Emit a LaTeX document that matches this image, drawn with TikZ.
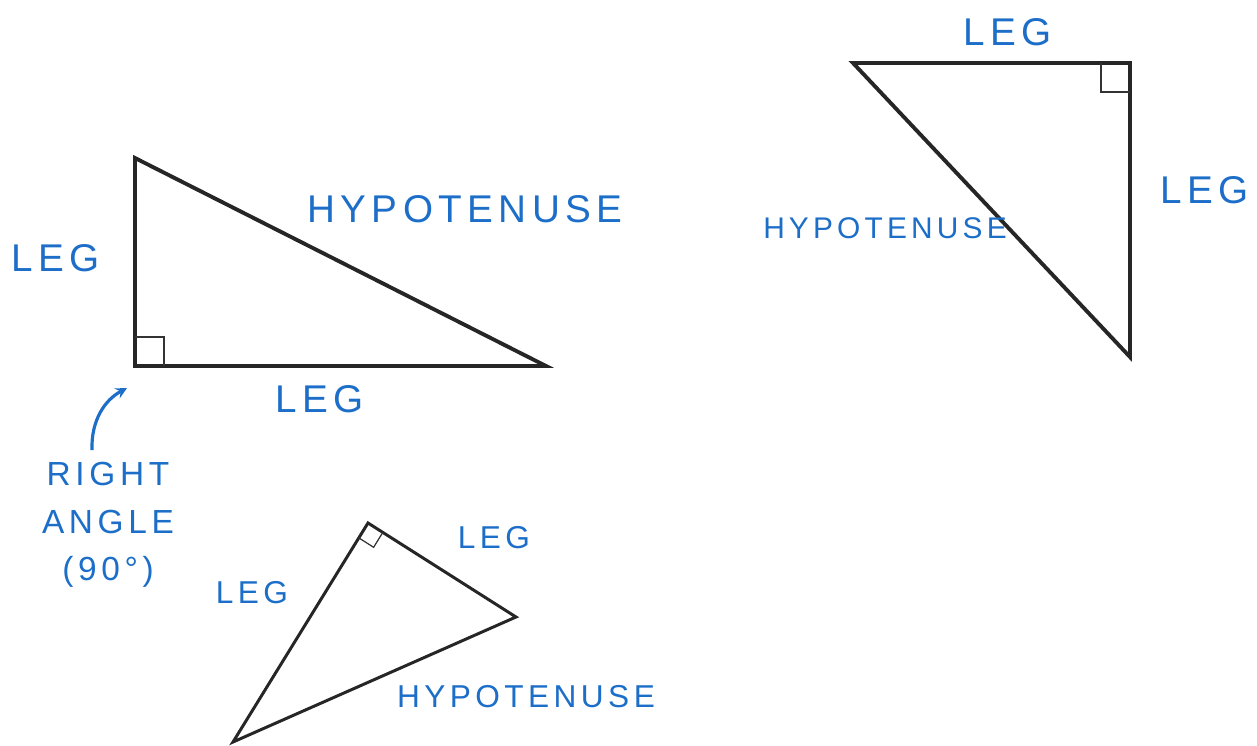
\documentclass[tikz,border=0pt]{standalone}
\usepackage{fontspec}
\usetikzlibrary{calc}
\newfontfamily\handfont[LetterSpace=14]{Liberation Sans}
\definecolor{pen}{RGB}{28,110,200}
\tikzset{
  side/.style={line width=2.2pt, line join=miter, draw=black!85},
  thinside/.style={line width=1.7pt, line join=miter, draw=black!85},
  rightmark/.style={line width=0.7pt, draw=black!80},
  bigtag/.style={text=pen, font=\handfont\fontsize{22}{26}\selectfont, inner sep=0pt},
  smalltag/.style={text=pen, font=\handfont\fontsize{18}{22}\selectfont, inner sep=0pt},
}
\begin{document}
\begin{tikzpicture}[x=0.2mm, y=-0.2mm, >=stealth]
  \useasboundingbox (0,0) rectangle (1257,746);
  % first triangle
  \coordinate (ta) at (135,158);
  \coordinate (tb) at (135,366);
  \coordinate (tc) at (546,366);
  \draw[side] (ta) -- (tb) -- (tc) -- cycle;
  \draw[rightmark] (tb) ++(0,-29) -- ++(29,0) -- ++(0,29);
  \node[bigtag] (legone) at (56,258) {LEG};
  \node[bigtag] (hypone) at (465,209) {HYPOTENUSE};
  \node[bigtag] (legtwo) at (320,399) {LEG};
  \node[text=pen, font=\handfont\fontsize{19}{27}\selectfont, align=center, inner sep=0pt] (rtang) at (108,525) {RIGHT\\ANGLE\\(90°)};
  \coordinate (tip) at (127,388);
  \draw[pen, line width=1.8pt, ->] (rtang.north -| 92,0) ++(0,-12) .. controls (91,420) and (105,400) .. (tip);
  % second triangle
  \coordinate (ua) at (853,63);
  \coordinate (ub) at (1130,63);
  \coordinate (uc) at (1130,357);
  \draw[side] (ua) -- (ub) -- (uc) -- cycle;
  \draw[rightmark] (ub) ++(-29,0) -- ++(0,29) -- ++(29,0);
  \node[bigtag] (legthree) at (1008,32) {LEG};
  \node[bigtag] (legfour) at (1205,190) {LEG};
  \node[smalltag, font=\handfont\fontsize{17}{20}\selectfont] (hyptwo) at (885,228) {HYPOTENUSE};
  % third triangle
  \coordinate (va) at (368,523);
  \coordinate (vb) at (516,617);
  \coordinate (vc) at (233,742);
  \draw[thinside] (va) -- (vb) -- (vc) -- cycle;
  \coordinate (vp) at ($(va)!0.1!(vb)$);
  \coordinate (vq) at ($(va)!0.068!(vc)$);
  \draw[rightmark] (vp) -- ($(vp)+(vq)-(va)$) -- (vq);
  \node[smalltag] (legfive) at (494,538) {LEG};
  \node[smalltag] (legsix) at (252,593) {LEG};
  \node[smalltag] (hypthree) at (526,697) {HYPOTENUSE};
\end{tikzpicture}
\end{document}
